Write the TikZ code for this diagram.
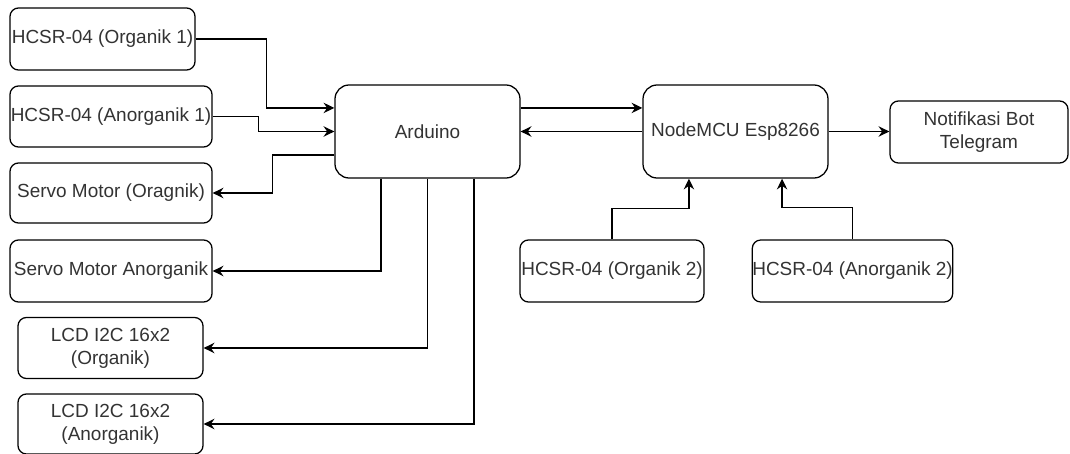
\documentclass[tikz,border=0pt]{standalone}
\usepackage{fontspec}
\setmainfont{Liberation Sans}
\usepackage{tikz}
\usetikzlibrary{arrows.meta,positioning,calc}
\tikzset{
  kotak/.style={draw,rounded corners=6pt,line width=0.9pt,inner sep=0pt,align=center,
    text=black!80,font=\fontsize{13.5}{16.5}\selectfont},
  panah/.style={line width=0.9pt,-{Stealth[length=2.7mm,width=2.6mm,inset=0.9mm]}},
}
\begin{document}
\begin{tikzpicture}
  \useasboundingbox (0,0) rectangle (26.75,-11.35);
  % kolom kiri
  \node[kotak,minimum width=4.625cm,minimum height=1.55cm] (orgA) at (2.5625,-0.975) {HCSR-04 (Organik 1)};
  \node[kotak,minimum width=5.05cm,minimum height=1.525cm] (anorgA) at (2.775,-2.9125) {HCSR-04 (Anorganik 1)};
  \node[kotak,minimum width=5.05cm,minimum height=1.5cm] (servoO) at (2.775,-4.825) {Servo Motor (Oragnik)};
  \node[kotak,minimum width=5.05cm,minimum height=1.55cm] (servoA) at (2.775,-6.775) {Servo Motor Anorganik};
  \node[kotak,minimum width=4.625cm,minimum height=1.525cm] (lcdO) at (2.7625,-8.7) {LCD I2C 16x2\\(Organik)};
  \node[kotak,minimum width=4.625cm,minimum height=1.5cm] (lcdA) at (2.7625,-10.6) {LCD I2C 16x2\\(Anorganik)};
  % tengah
  \node[kotak,rounded corners=10pt,minimum width=4.625cm,minimum height=2.325cm] (ard) at (10.6875,-3.2875) {Arduino};
  \node[kotak,rounded corners=10pt,minimum width=4.625cm,minimum height=2.325cm] (mcu) at (18.3875,-3.2875) {NodeMCU Esp8266};
  \node[kotak,minimum width=4.45cm,minimum height=1.55cm] (notif) at (24.475,-3.3) {Notifikasi Bot\\Telegram};
  \node[kotak,minimum width=4.6cm,minimum height=1.55cm] (org2) at (15.3,-6.775) {HCSR-04 (Organik 2)};
  \node[kotak,minimum width=4.975cm,minimum height=1.55cm] (anorg2) at (21.3125,-6.775) {HCSR-04 (Anorganik 2)};
  % sensor ke Arduino
  \draw[panah] (orgA.east) -- ++(1.775,0) |- ($(ard.north west)!.25!(ard.south west)$);
  \draw[panah] (anorgA.east) -- ++(1.15,0) |- (ard.west);
  % Arduino ke aktuator
  \draw[panah] ($(ard.north west)!.75!(ard.south west)$) -- ++(-1.55,0) |- (servoO.east);
  \draw[panah] ($(ard.south west)!.25!(ard.south east)$) |- (servoA.east);
  \draw[panah] (ard.south) |- (lcdO.east);
  \draw[panah] ($(ard.south west)!.75!(ard.south east)$) |- (lcdA.east);
  % Arduino <-> NodeMCU
  \draw[panah] ($(ard.north east)!.25!(ard.south east)$) -- ($(mcu.north west)!.25!(mcu.south west)$);
  \draw[panah] (mcu.west) -- (ard.east);
  \draw[panah] (mcu.east) -- (mcu.east -| notif.west);
  % sensor ke NodeMCU
  \draw[panah] (org2.north) -- ++(0,0.775) -| ($(mcu.south west)!.25!(mcu.south east)$);
  \draw[panah] (anorg2.north) -- ++(0,0.8) -| ($(mcu.south west)!.75!(mcu.south east)$);
\end{tikzpicture}
\end{document}
